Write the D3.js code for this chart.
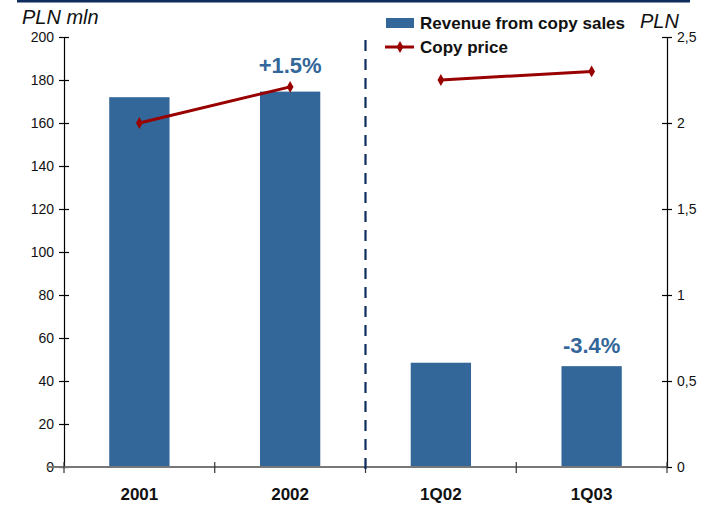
<!DOCTYPE html>
<html>
<head>
<meta charset="utf-8">
<script src="https://cdn.jsdelivr.net/npm/d3@7"></script>
<style>
  body { margin: 0; background: #fff; }
  svg { display: block; font-family: Arial, "Liberation Sans", sans-serif; }
</style>
</head>
<body>
<svg id="chart" width="702" height="505"></svg>
<script>
// Revenue from copy sales (PLN mln) and average copy price (PLN)
const categories = ["2001", "2002", "1Q02", "1Q03"];
const revenue = [172, 174.6, 48.5, 46.9];
const price = [2.0, 2.21, 2.25, 2.3];
const leftTicks = [0, 20, 40, 60, 80, 100, 120, 140, 160, 180, 200];
const rightTicks = [0, 0.5, 1, 1.5, 2, 2.5];
const changeLabels = [{ cat: "2002", text: "+1.5%" }, { cat: "1Q03", text: "-3.4%" }];
// price line is split into annual and quarterly segments
const priceSegments = [[0, 1], [2, 3]];

const BLUE = "#336699";
const RED = "#990000";
const NAVY = "#0d2d5e";

const svg = d3.select("#chart");
const m = { left: 64, right: 667, top: 37, bottom: 467 };

const x = d3.scaleBand().domain(categories).range([m.left, m.right]).paddingInner(0).paddingOuter(0);
const yL = d3.scaleLinear().domain([0, 200]).range([m.bottom, m.top]);
const yR = d3.scaleLinear().domain([0, 2.5]).range([m.bottom, m.top]);
const barW = x.bandwidth() * 0.4;

// top rule
svg.append("rect").attr("x", 17).attr("y", 0).attr("width", 673).attr("height", 2.5).attr("fill", NAVY);

// bars
svg.selectAll("rect.bar").data(categories).join("rect")
  .attr("class", "bar")
  .attr("x", d => x(d) + x.bandwidth() / 2 - barW / 2)
  .attr("width", barW)
  .attr("y", (d, i) => yL(revenue[i]))
  .attr("height", (d, i) => yL(0) - yL(revenue[i]))
  .attr("fill", BLUE);

// left axis
const axL = svg.append("g").attr("transform", `translate(${m.left},0)`)
  .call(d3.axisLeft(yL).tickValues(leftTicks).tickSize(0).tickPadding(10));
axL.select(".domain").attr("stroke", "#000").attr("stroke-width", 1.2);
axL.selectAll(".tick text").attr("font-size", 14).attr("fill", "#111");
axL.selectAll(".tick").append("line").attr("x1", -5).attr("x2", 5).attr("stroke", "#000").attr("stroke-width", 1.2);

// right axis
const fmtR = d => String(d).replace(".", ",");
const axR = svg.append("g").attr("transform", `translate(${m.right},0)`)
  .call(d3.axisRight(yR).tickValues(rightTicks).tickFormat(fmtR).tickSize(0).tickPadding(10));
axR.select(".domain").attr("stroke", "#000").attr("stroke-width", 1.2);
axR.selectAll(".tick text").attr("font-size", 14).attr("fill", "#111");
axR.selectAll(".tick").append("line").attr("x1", -5).attr("x2", 5).attr("stroke", "#000").attr("stroke-width", 1.2);

// bottom axis
const bounds = categories.map(c => x(c)).concat([m.right]);
const axB = svg.append("g").attr("transform", `translate(0,${m.bottom})`);
axB.append("line").attr("x1", 47).attr("x2", m.right).attr("stroke", "#777").attr("stroke-width", 2);
axB.selectAll("line.tk").data(bounds).join("line").attr("class", "tk")
  .attr("x1", d => d).attr("x2", d => d).attr("y1", -5).attr("y2", 6)
  .attr("stroke", "#333").attr("stroke-width", 1.2);
axB.selectAll("text").data(categories).join("text")
  .attr("x", d => x(d) + x.bandwidth() / 2).attr("y", 33)
  .attr("text-anchor", "middle").attr("font-size", 17).attr("font-weight", "bold").attr("fill", "#111")
  .text(d => d);

// divider between annual and quarterly data
svg.append("line")
  .attr("x1", x("1Q02")).attr("x2", x("1Q02")).attr("y1", 40).attr("y2", 470)
  .attr("stroke", NAVY).attr("stroke-width", 2.2).attr("stroke-dasharray", "11 8");

// price line
const line = d3.line().x(i => x(categories[i]) + x.bandwidth() / 2).y(i => yR(price[i]));
priceSegments.forEach(seg => {
  svg.append("path").attr("d", line(seg)).attr("fill", "none").attr("stroke", RED).attr("stroke-width", 3);
});
const diamond = d3.symbol().type(d3.symbolDiamond).size(40);
svg.selectAll("path.pt").data(price).join("path").attr("class", "pt")
  .attr("d", diamond)
  .attr("transform", (d, i) => `translate(${x(categories[i]) + x.bandwidth() / 2},${yR(d)})`)
  .attr("fill", RED);

// change labels above the bars they refer to
const labelGap = { "2002": 19, "1Q03": 13 };
svg.selectAll("text.chg").data(changeLabels).join("text").attr("class", "chg")
  .attr("x", d => x(d.cat) + x.bandwidth() / 2)
  .attr("y", d => yL(revenue[categories.indexOf(d.cat)]) - labelGap[d.cat])
  .attr("text-anchor", "middle").attr("font-size", 22).attr("font-weight", "bold").attr("fill", BLUE)
  .text(d => d.text);

// axis titles
svg.append("text").attr("x", 22).attr("y", 24).attr("font-size", 20).attr("font-style", "italic").attr("fill", "#111").text("PLN mln");
svg.append("text").attr("x", 640).attr("y", 28).attr("font-size", 20).attr("font-style", "italic").attr("fill", "#111").text("PLN");

// legend
const lg = svg.append("g");
lg.append("rect").attr("x", 386).attr("y", 18).attr("width", 28).attr("height", 10).attr("fill", BLUE);
lg.append("text").attr("x", 420).attr("y", 29).attr("font-size", 17).attr("font-weight", "bold").attr("fill", "#111").text("Revenue from copy sales");
lg.append("line").attr("x1", 385).attr("x2", 414).attr("y1", 47).attr("y2", 47).attr("stroke", RED).attr("stroke-width", 3);
lg.append("path").attr("d", diamond).attr("transform", "translate(400,47)").attr("fill", RED);
lg.append("text").attr("x", 420).attr("y", 53).attr("font-size", 17).attr("font-weight", "bold").attr("fill", "#111").text("Copy price");
</script>
</body>
</html>
